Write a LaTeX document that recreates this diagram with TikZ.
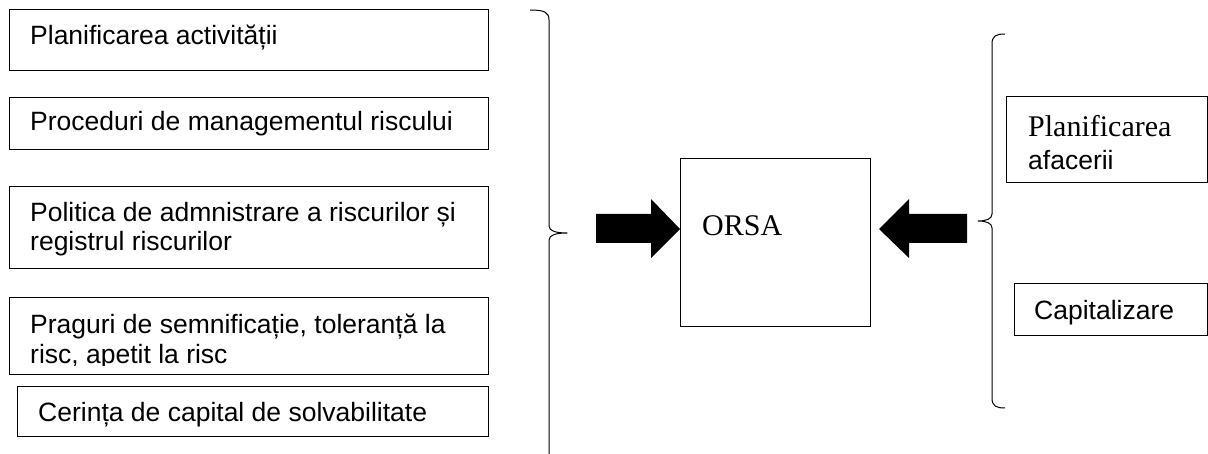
\documentclass[tikz,border=0pt]{standalone}
\usepackage{fontspec}
\setmainfont{Liberation Sans}
\newfontfamily\timesfont{Liberation Serif}
\begin{document}
\begin{tikzpicture}[x=1pt,y=-1pt,
  box/.style={draw=black,line width=1pt,fill=none},
  lbl/.style={inner sep=0pt,anchor=base west,font=\fontsize{26.5}{27}\selectfont},
  serif/.style={inner sep=0pt,anchor=base west,font=\timesfont\fontsize{30}{31}\selectfont},
  brace/.style={draw=black,line width=1pt,line join=round},
  blockarrow/.style={fill=black,draw=none}]
\useasboundingbox (0,0) rectangle (1208,454);

% left column of inputs
\draw[box] (9,10) rectangle (488,71);
\node[lbl] (t1) at (30,45) {Planificarea activității};

\draw[box] (9,98) rectangle (488,150);
\node[lbl] (t2) at (30,131) {Proceduri de managementul riscului};

\draw[box] (9,187) rectangle (488,269);
\node[lbl] (t3a) at (30,222) {Politica de admnistrare a riscurilor și};
\node[lbl] (t3b) at (30,251) {registrul riscurilor};

\draw[box] (9,298) rectangle (488,375);
\node[lbl] (t4a) at (30,334) {Praguri de semnificație, toleranță la};
\begin{scope}
  \clip (9,340) rectangle (488,365.5);
  \node[lbl] (t4b) at (30,363) {risc, apetit la risc};
\end{scope}

\draw[box] (17,387) rectangle (488,436);
\node[lbl] (t5) at (38,421) {Cerința de capital de solvabilitate};

% brace grouping the left column
\draw[brace] (530,10) .. controls (544,10) and (549,12) .. (549,20)
  -- (549,226) .. controls (549,231) and (556,233) .. (567,233)
  .. controls (556,233) and (549,235) .. (549,240) -- (549,454);

% central assessment box
\draw[box] (680,159) rectangle (870,327);
\node[serif] (orsa) at (702,236) {ORSA};

% block arrows pointing into the central box
\fill[blockarrow] (596,214) -- (651,214) -- (651,199) -- (680,229)
  -- (651,258) -- (651,243) -- (596,243) -- cycle;
\fill[blockarrow] (967,214) -- (909,214) -- (909,199) -- (879,229)
  -- (909,258) -- (909,243) -- (967,243) -- cycle;

% brace grouping the right column
\draw[brace] (1005,34) .. controls (996,34) and (992,36) .. (992,44)
  -- (992,214) .. controls (992,219) and (986,221) .. (978,221)
  .. controls (986,221) and (992,223) .. (992,228)
  -- (992,398) .. controls (992,406) and (996,408) .. (1005,408);

% right column of inputs
\draw[box] (1006,97) rectangle (1207,183);
\node[serif] (p1) at (1028,137) {Planificarea};
\node[lbl] (p2) at (1028,170) {afacerii};

\draw[box] (1014,284) rectangle (1207,336);
\node[lbl] (cap) at (1034,320) {Capitalizare};
\end{tikzpicture}
\end{document}
